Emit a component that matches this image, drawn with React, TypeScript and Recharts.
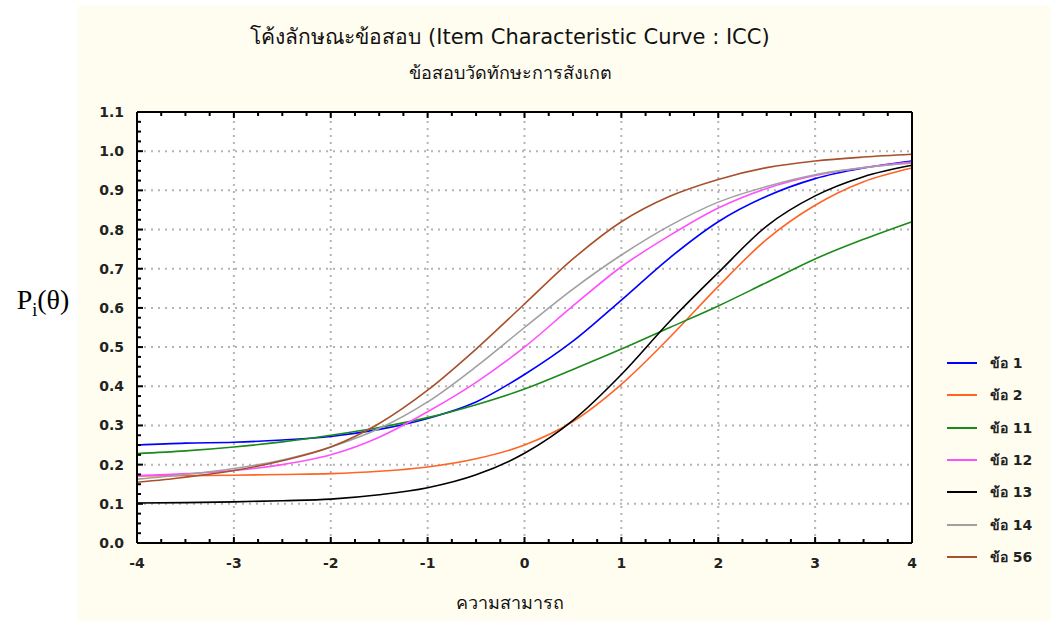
import React from "react";
import { LineChart, Line, XAxis, YAxis, ReferenceLine } from "recharts";

// ability levels (theta) where the curves were read
const theta = [-4, -3.5, -3, -2.5, -2, -1.5, -1, -0.5, 0, 0.5, 1, 1.5, 2, 2.5, 3, 3.5, 4];

const item1 = [0.25, 0.255, 0.257, 0.263, 0.272, 0.29, 0.318, 0.36, 0.43, 0.515, 0.62, 0.728, 0.82, 0.885, 0.93, 0.957, 0.975];
const item2 = [0.171, 0.172, 0.173, 0.175, 0.177, 0.183, 0.194, 0.215, 0.25, 0.31, 0.405, 0.525, 0.655, 0.775, 0.862, 0.922, 0.957];
const item11 = [0.228, 0.235, 0.245, 0.258, 0.275, 0.295, 0.32, 0.353, 0.393, 0.443, 0.495, 0.55, 0.605, 0.665, 0.725, 0.775, 0.82];
const item12 = [0.172, 0.177, 0.185, 0.2, 0.225, 0.27, 0.335, 0.41, 0.5, 0.605, 0.705, 0.785, 0.855, 0.905, 0.938, 0.958, 0.972];
const item13 = [0.102, 0.103, 0.105, 0.108, 0.112, 0.123, 0.141, 0.174, 0.229, 0.313, 0.43, 0.566, 0.69, 0.809, 0.886, 0.935, 0.964];
const item14 = [0.163, 0.175, 0.19, 0.212, 0.245, 0.292, 0.36, 0.45, 0.55, 0.648, 0.735, 0.81, 0.87, 0.91, 0.94, 0.958, 0.97];
const item56 = [0.155, 0.168, 0.185, 0.21, 0.245, 0.305, 0.39, 0.495, 0.61, 0.725, 0.82, 0.885, 0.928, 0.958, 0.975, 0.985, 0.992];

const seriesNames = ["ข้อ 1", "ข้อ 2", "ข้อ 11", "ข้อ 12", "ข้อ 13", "ข้อ 14", "ข้อ 56"];
const seriesValues = [item1, item2, item11, item12, item13, item14, item56];
const seriesColors = ["#0000ff", "#ff6424", "#1a8a1a", "#ff50ff", "#000000", "#a0a0a0", "#a8502c"];

const xMajor = [-4, -3, -2, -1, 0, 1, 2, 3, 4];
const yMajor = [0, 0.1, 0.2, 0.3, 0.4, 0.5, 0.6, 0.7, 0.8, 0.9, 1.0, 1.1];

// minor ticks: 4 steps between majors
const xTicks: number[] = [];
for (let i = 0; i <= 32; i++) xTicks.push(-4 + i * 0.25);
const yTicks: number[] = [];
for (let i = 0; i <= 44; i++) yTicks.push(Math.round(i * 0.025 * 1000) / 1000);

const isMajor = (v: number, step: number) => Math.abs(v / step - Math.round(v / step)) < 1e-6;

const chartData = theta.map((t, i) => {
  const row: any = { theta: t };
  seriesValues.forEach((vals, k) => {
    row["s" + k] = vals[i];
  });
  return row;
});

const uiFont = "'DejaVu Sans', Tahoma, sans-serif";
const tickFont = { fontFamily: uiFont, fontSize: 14, fontWeight: 700, fill: "#222" };

const BottomTick = (props: any) => {
  const { x, y, payload } = props;
  const major = isMajor(payload.value, 1);
  return (
    <g>
      <line x1={x} y1={y} x2={x} y2={y - (major ? 6 : 4)} stroke="#000" strokeWidth={2} />
      {major && (
        <text x={x} y={y + 25} textAnchor="middle" {...tickFont}>
          {payload.value}
        </text>
      )}
    </g>
  );
};

const TopTick = (props: any) => {
  const { x, y, payload } = props;
  const major = isMajor(payload.value, 1);
  return <line x1={x} y1={y} x2={x} y2={y + (major ? 6 : 4)} stroke="#000" strokeWidth={2} />;
};

const LeftTick = (props: any) => {
  const { x, y, payload } = props;
  const major = isMajor(payload.value, 0.1);
  return (
    <g>
      <line x1={x} y1={y} x2={x + (major ? 6 : 4)} y2={y} stroke="#000" strokeWidth={2} />
      {major && (
        <text x={x - 13} y={y + 5} textAnchor="end" {...tickFont}>
          {payload.value.toFixed(1)}
        </text>
      )}
    </g>
  );
};

const RightTick = (props: any) => {
  const { x, y, payload } = props;
  const major = isMajor(payload.value, 0.1);
  return <line x1={x} y1={y} x2={x - (major ? 6 : 4)} y2={y} stroke="#000" strokeWidth={2} />;
};

export default function App() {
  return (
    <div style={{ position: "absolute", left: 0, top: 0, width: 1050, height: 621, background: "#fff", overflow: "hidden" }}>
      <div style={{ position: "absolute", left: 78, top: 6, width: 972, height: 615, background: "#fffdf0" }} />
      <div style={{ position: "absolute", left: 137, top: 112, width: 775, height: 431, background: "#fff" }} />

      <div style={{ position: "absolute", left: 0, top: 284, width: 86, textAlign: "center", fontFamily: "'Liberation Serif', 'Times New Roman', serif", fontSize: 28, color: "#000" }}>
        P<sub style={{ fontSize: 18 }}>i</sub>(θ)
      </div>

      <div style={{ position: "absolute", left: 110, width: 800, top: 23, textAlign: "center", fontFamily: "Tahoma, 'DejaVu Sans', sans-serif", fontSize: 21, color: "#111", lineHeight: "28px" }}>
        โค้งลักษณะข้อสอบ (Item Characteristic Curve : ICC)
      </div>
      <div style={{ position: "absolute", left: 110, width: 800, top: 59, textAlign: "center", fontFamily: "Tahoma, 'DejaVu Sans', sans-serif", fontSize: 18, color: "#111", lineHeight: "28px" }}>
        ข้อสอบวัดทักษะการสังเกต
      </div>
      <div style={{ position: "absolute", left: 310, width: 400, top: 590, textAlign: "center", fontFamily: "Tahoma, 'DejaVu Sans', sans-serif", fontSize: 18, color: "#111", lineHeight: "26px" }}>
        ความสามารถ
      </div>

      {/* legend, in series order */}
      <div style={{ position: "absolute", left: 947, top: 347, width: 100 }}>
        {seriesNames.map((name, k) => (
          <div key={name} style={{ height: 32.3, display: "flex", alignItems: "center" }}>
            <div style={{ width: 30, height: 2, background: seriesColors[k], marginRight: 13 }} />
            <span style={{ fontFamily: uiFont, fontSize: 14, fontWeight: 700, color: "#222" }}>{name}</span>
          </div>
        ))}
      </div>

      <div style={{ position: "absolute", left: 0, top: 0 }}>
        <LineChart width={1050} height={621} data={chartData} margin={{ top: 102, right: 128, left: 77, bottom: 48 }}>
          <XAxis
            xAxisId="b"
            dataKey="theta"
            type="number"
            domain={[-4, 4]}
            ticks={xTicks}
            interval={0}
            height={30}
            tickSize={0}
            tickMargin={0}
            tickLine={false}
            axisLine={{ stroke: "#000", strokeWidth: 2 }}
            tick={<BottomTick />}
          />
          <XAxis
            xAxisId="t"
            orientation="top"
            dataKey="theta"
            type="number"
            domain={[-4, 4]}
            ticks={xTicks}
            interval={0}
            height={10}
            tickSize={0}
            tickMargin={0}
            tickLine={false}
            axisLine={{ stroke: "#000", strokeWidth: 2 }}
            tick={<TopTick />}
          />
          <YAxis
            yAxisId="l"
            type="number"
            domain={[0, 1.1]}
            ticks={yTicks}
            interval={0}
            width={60}
            tickSize={0}
            tickMargin={0}
            tickLine={false}
            axisLine={{ stroke: "#000", strokeWidth: 2 }}
            tick={<LeftTick />}
          />
          <YAxis
            yAxisId="r"
            orientation="right"
            type="number"
            domain={[0, 1.1]}
            ticks={yTicks}
            interval={0}
            width={10}
            tickSize={0}
            tickMargin={0}
            tickLine={false}
            axisLine={{ stroke: "#000", strokeWidth: 2 }}
            tick={<RightTick />}
          />
          {xMajor.slice(1, -1).map((v) => (
            <ReferenceLine key={"gx" + v} xAxisId="b" yAxisId="l" x={v} stroke="#b4b4b4" strokeWidth={2} strokeDasharray="2 5" />
          ))}
          {yMajor.slice(1, -1).map((v) => (
            <ReferenceLine key={"gy" + v} xAxisId="b" yAxisId="l" y={v} stroke="#b4b4b4" strokeWidth={2} strokeDasharray="2 5" />
          ))}
          {seriesNames.map((name, k) => (
            <Line
              key={name}
              xAxisId="b"
              yAxisId="l"
              type="monotone"
              dataKey={"s" + k}
              name={name}
              stroke={seriesColors[k]}
              strokeWidth={1.6}
              dot={false}
              isAnimationActive={false}
            />
          ))}
        </LineChart>
      </div>
    </div>
  );
}
